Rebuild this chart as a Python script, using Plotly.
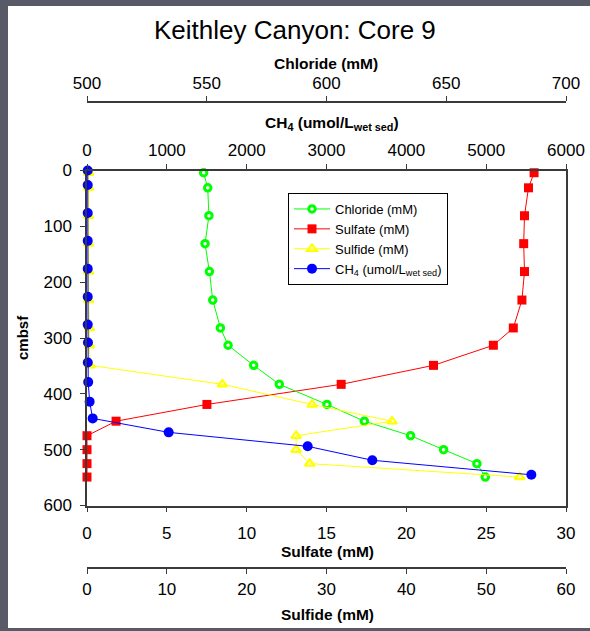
import plotly.graph_objects as go

# Depth (cmbsf) of pore-water samples
depth = [4, 31, 81, 131, 181, 232, 282, 313, 349, 383, 419, 449, 475, 500, 525, 549]
chloride = [548.7, 550.4, 550.9, 549.3, 551.1, 552.5, 555.7, 558.9, 569.6, 580.3,
            600.2, 615.8, 635.1, 648.9, 662.8, 666.3]
sulfate = [28.0, 27.65, 27.4, 27.35, 27.4, 27.24, 26.7, 25.45, 21.7, 15.92,
           7.51, 1.82, 0.0, 0.0, 0.0, 0.0]
sulfide = [0.2, 0.2, 0.2, 0.2, 0.2, 0.2, 0.3, 0.3, 0.4, 16.95,
           28.2, 38.2, 26.2, 26.2, 27.9, 54.2]

# Methane samples
ch4_depth = [0, 26, 76, 126, 176, 226, 276, 308, 344, 379, 414, 444, 469, 494, 519, 545]
ch4 = [9, 9, 9, 9, 9, 9, 9, 12, 10, 15, 33, 71, 1023, 2764, 3574, 5566]

FONT = "Arial, Liberation Sans, sans-serif"
AX = "#3a3a3a"

fig = go.Figure()
fig.add_trace(go.Scatter(
    x=chloride, y=depth, xaxis="x2", yaxis="y", name="Chloride (mM)",
    mode="lines+markers", cliponaxis=False,
    line=dict(color="#00ff00", width=1),
    marker=dict(symbol="circle", size=6.5, color="white",
                line=dict(color="#00ff00", width=3))))
fig.add_trace(go.Scatter(
    x=sulfate, y=depth, xaxis="x", yaxis="y", name="Sulfate (mM)",
    mode="lines+markers", cliponaxis=False,
    line=dict(color="#ff0000", width=1),
    marker=dict(symbol="square", size=9, color="#ff0000")))
fig.add_trace(go.Scatter(
    x=sulfide, y=depth, xaxis="x3", yaxis="y", name="Sulfide (mM)",
    mode="lines+markers", cliponaxis=False,
    line=dict(color="#ffff00", width=1),
    marker=dict(symbol="triangle-up-open", size=8.5, color="#ffff00",
                line=dict(color="#ffff00", width=2.2))))
fig.add_trace(go.Scatter(
    x=ch4, y=ch4_depth, xaxis="x4", yaxis="y",
    name="CH<sub>4</sub> (umol/L<sub>wet sed</sub>)",
    mode="lines+markers", cliponaxis=False,
    line=dict(color="#0000ff", width=1),
    marker=dict(symbol="circle", size=10, color="#0000ff")))

W, H = 590, 631
top_px, bot_px = 170.5, 505.5


def py(px):
    return (H - px) / H


common = dict(showgrid=False, zeroline=False, showline=True, linecolor=AX,
              linewidth=1.5, ticks="outside", ticklen=5, tickcolor=AX,
              tickwidth=1.2, automargin=False,
              tickfont=dict(family=FONT, size=17, color="black"))

fig.update_layout(
    template="none",
    width=W, height=H,
    margin=dict(l=87, r=24, t=0, b=0, pad=0),
    paper_bgcolor="#585a68",
    plot_bgcolor="white",
    showlegend=True,
    xaxis=dict(range=[0, 30], dtick=5, side="bottom", anchor="y",
               ticklabelstandoff=6, **common),
    xaxis2=dict(range=[500, 700], dtick=50, side="top", anchor="free",
                overlaying="x", position=py(102), ticklabelstandoff=0, **common),
    xaxis3=dict(range=[0, 60], dtick=10, side="bottom", anchor="free",
                overlaying="x", position=py(568), ticklabelstandoff=1, **common),
    xaxis4=dict(range=[0, 6000], dtick=1000, side="top", anchor="y",
                overlaying="x", ticklabelstandoff=1, **common),
    yaxis=dict(range=[600, 0], dtick=100, domain=[py(bot_px), py(top_px)],
               mirror=True, ticklabelstandoff=5, **common),
    legend=dict(x=(288 - 87) / 479, y=py(193), xanchor="left", yanchor="top",
                bgcolor="white", bordercolor="black", borderwidth=1,
                itemwidth=36,
                font=dict(family=FONT, size=13, color="black")),
)

# White slide panel behind the chart
fig.add_shape(type="rect", xref="paper", yref="paper", layer="below",
              x0=(8 - 87) / 479, x1=(592 - 87) / 479, y0=py(628), y1=py(6),
              fillcolor="white", line=dict(width=0))


def label(text, xpx, ypx, size, angle=0):
    fig.add_annotation(text=text, xref="paper", yref="paper",
                       x=(xpx - 87) / 479, y=py(ypx), showarrow=False,
                       xanchor="center", yanchor="middle", textangle=angle,
                       font=dict(family=FONT, size=size, color="black"))


label("Keithley Canyon: Core 9", 295, 30, 26)
label("<b>Chloride (mM)</b>", 326, 63, 15.5)
label("<b>CH<sub>4</sub> (umol/L<sub>wet sed</sub>)</b>", 332, 124, 15.5)
label("<b>Sulfate (mM)</b>", 327, 551, 15.5)
label("<b>Sulfide (mM)</b>", 327, 614, 15.5)
label("<b>cmbsf</b>", 22, 338, 15, angle=-90)

fig.write_html("out.html")
